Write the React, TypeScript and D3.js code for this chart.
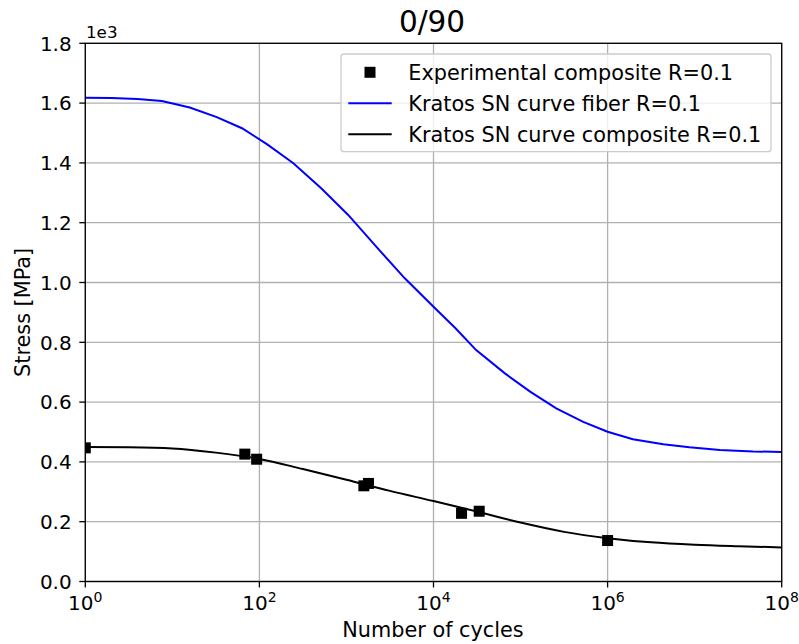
import React from "react";
import * as d3 from "d3";

const title = "0/90";
const xLabel = "Number of cycles";
const yLabel = "Stress [MPa]";
const offsetText = "1e3";

const xTickExps = [0, 2, 4, 6, 8];
const yTicks = [0, 200, 400, 600, 800, 1000, 1200, 1400, 1600, 1800];

// Experimental composite R=0.1 (cycles, stress MPa)
const expCycles = [1, 68, 93, 1585, 1790, 21000, 33500, 1000000];
const expStress = [447, 426, 409, 320, 328, 228, 235, 137];

// Kratos SN curve fiber R=0.1 (log10 cycles, stress MPa)
const fiberLogN = [0, 0.3, 0.6, 0.88, 1.2, 1.51, 1.8, 2.09, 2.39, 2.71, 3.02, 3.36, 3.67, 4.0, 4.25, 4.49, 4.82, 5.11, 5.41, 5.72, 6.0, 6.29, 6.64, 6.94, 7.29, 7.67, 8.0];
const fiberStress = [1618, 1617, 1614, 1607, 1585, 1553, 1516, 1462, 1399, 1315, 1226, 1114, 1014, 919, 848, 774, 696, 635, 579, 534, 501, 476, 459, 449, 440, 435, 433];

// Kratos SN curve composite R=0.1
const compLogN = [0, 0.5, 1.0, 1.5, 2.0, 2.5, 3.0, 3.5, 4.0, 4.5, 5.0, 5.5, 6.0, 6.5, 7.0, 7.5, 8.0];
const compStress = [450, 449, 445, 431, 410, 376, 340, 303, 269, 234, 197, 166, 145, 131, 123, 118, 114];

const legendLabels = [
  "Experimental composite R=0.1",
  "Kratos SN curve fiber R=0.1",
  "Kratos SN curve composite R=0.1",
];

const W = 799;
const H = 644;
const left = 85.3;
const right = 781.7;
const top = 43.3;
const bottom = 581.5;
const font = "DejaVu Sans, sans-serif";
const fs = 20;
const fsL = 20.8;

export default function App() {
  const x = d3.scaleLog().domain([1, 1e8]).range([left, right]);
  const y = d3.scaleLinear().domain([0, 1800]).range([bottom, top]);

  const line = d3
    .line<[number, number]>()
    .x((d) => x(Math.pow(10, d[0])))
    .y((d) => y(d[1]));

  const fiberPath = line(fiberLogN.map((l, i) => [l, fiberStress[i]] as [number, number])) || "";
  const compPath =
    line.curve(d3.curveMonotoneX)(compLogN.map((l, i) => [l, compStress[i]] as [number, number])) || "";

  const gridColor = "#b0b0b0";
  const ms = 11;

  const legX = 341;
  const legY = 54;
  const legW = 430;
  const legH = 97.7;
  const rowY = [72.3, 103.3, 134.3];

  return (
    <svg width={W} height={H} style={{ position: "absolute", left: 0, top: 0 }} fontFamily={font}>
      <defs>
        <clipPath id="plotclip">
          <rect x={left} y={top} width={right - left} height={bottom - top} />
        </clipPath>
      </defs>
      <rect x={0} y={0} width={W} height={H} fill="white" />
      {/* grid */}
      {xTickExps.map((e) => (
        <line key={"gx" + e} x1={x(Math.pow(10, e))} x2={x(Math.pow(10, e))} y1={top} y2={bottom} stroke={gridColor} strokeWidth={1.3} />
      ))}
      {yTicks.map((t) => (
        <line key={"gy" + t} x1={left} x2={right} y1={y(t)} y2={y(t)} stroke={gridColor} strokeWidth={1.3} />
      ))}
      {/* data */}
      <g clipPath="url(#plotclip)">
        {expCycles.map((c, i) => (
          <rect key={"m" + i} x={x(c) - ms / 2} y={y(expStress[i]) - ms / 2} width={ms} height={ms} fill="black" />
        ))}
        <path d={fiberPath} fill="none" stroke="blue" strokeWidth={2} />
        <path d={compPath} fill="none" stroke="black" strokeWidth={2} />
      </g>
      {/* frame */}
      <rect x={left} y={top} width={right - left} height={bottom - top} fill="none" stroke="black" strokeWidth={1.3} />
      {/* y ticks */}
      {yTicks.map((t) => (
        <g key={"yt" + t}>
          <line x1={left - 6} x2={left} y1={y(t)} y2={y(t)} stroke="black" strokeWidth={1.3} />
          <text x={71.7} y={y(t)} dy="0.36em" textAnchor="end" fontSize={fs} fill="black">
            {(t / 1000).toFixed(1)}
          </text>
        </g>
      ))}
      <text x={86} y={38.3} fontSize={16.7} fill="black">{offsetText}</text>
      {/* x ticks */}
      {xTickExps.map((e) => (
        <g key={"xt" + e}>
          <line x1={x(Math.pow(10, e))} x2={x(Math.pow(10, e))} y1={bottom} y2={bottom + 6} stroke="black" strokeWidth={1.3} />
          <text x={x(Math.pow(10, e))} y={610} textAnchor="middle" fontSize={fs} fill="black">
            10<tspan fontSize={14} dy={-8.5}>{e}</tspan>
          </text>
        </g>
      ))}
      {/* labels */}
      <text x={433} y={636.7} textAnchor="middle" fontSize={fsL} fill="black">{xLabel}</text>
      <text transform={`translate(30,${(top + bottom) / 2}) rotate(-90)`} textAnchor="middle" fontSize={fsL} fill="black">{yLabel}</text>
      <text x={432} y={31.7} textAnchor="middle" fontSize={29.5} fill="black">{title}</text>
      {/* legend */}
      <rect x={legX} y={legY} width={legW} height={legH} rx={3} ry={3} fill="white" fillOpacity={0.8} stroke="#cccccc" strokeWidth={1.3} />
      <rect x={370 - ms / 2} y={rowY[0] - ms / 2} width={ms} height={ms} fill="black" />
      <line x1={348.3} x2={391.7} y1={rowY[1]} y2={rowY[1]} stroke="blue" strokeWidth={2} />
      <line x1={348.3} x2={391.7} y1={rowY[2]} y2={rowY[2]} stroke="black" strokeWidth={2} />
      {legendLabels.map((l, i) => (
        <text key={"l" + i} x={408.3} y={rowY[i]} dy="0.36em" fontSize={fsL} fill="black">{l}</text>
      ))}
    </svg>
  );
}
